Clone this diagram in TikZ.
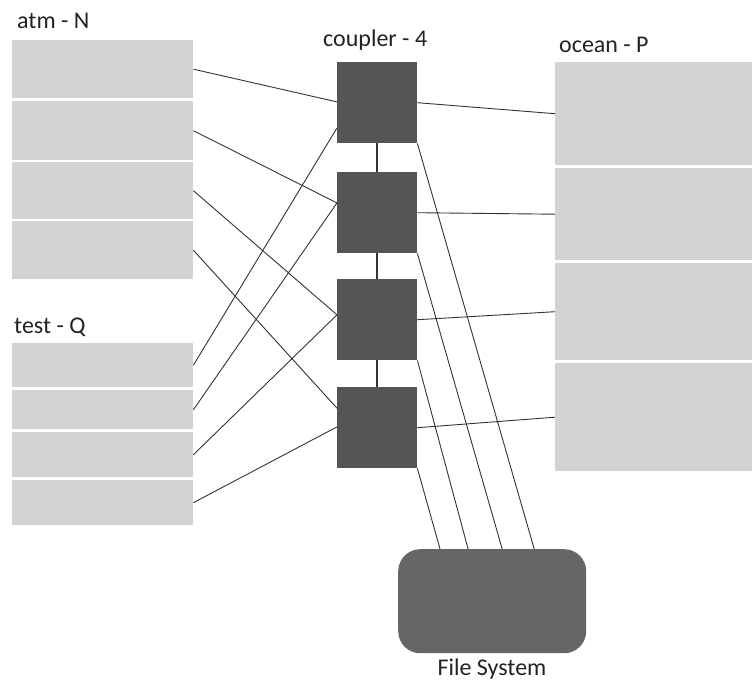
\documentclass[tikz,border=0pt]{standalone}
\usepackage{fontspec}
\setmainfont{Carlito}
\usetikzlibrary{calc}
\definecolor{lightbox}{HTML}{D3D3D3}
\definecolor{darkbox}{HTML}{555555}
\definecolor{fsbox}{HTML}{666666}
\definecolor{linecol}{HTML}{333333}
\definecolor{txtcol}{HTML}{222222}
\tikzset{
  lbox/.style={fill=lightbox, draw=none, inner sep=0pt, anchor=north west, minimum width=181pt},
  cbox/.style={fill=darkbox, draw=none, inner sep=0pt, anchor=north west, minimum width=80pt, minimum height=81pt},
  obox/.style={fill=lightbox, draw=none, inner sep=0pt, anchor=north west, minimum width=197pt},
  conn/.style={draw=linecol, line width=0.9pt},
  chain/.style={draw=linecol, line width=1.6pt},
  lbl/.style={text=txtcol, inner sep=0pt, font=\fontsize{24}{28}\selectfont}
}
\begin{document}
\begin{tikzpicture}[x=1pt,y=-1pt]
\useasboundingbox (0,0) rectangle (752,682);
% atm boxes
\node[lbox, minimum height=58pt] (a1) at (12,40) {};
\node[lbox, minimum height=59pt] (a2) at (12,101) {};
\node[lbox, minimum height=57pt] (a3) at (12,162) {};
\node[lbox, minimum height=58pt] (a4) at (12,221) {};
% test boxes
\node[lbox, minimum height=44pt] (t1) at (12,343) {};
\node[lbox, minimum height=39pt] (t2) at (12,390) {};
\node[lbox, minimum height=45pt] (t3) at (12,432) {};
\node[lbox, minimum height=45pt] (t4) at (12,480) {};
% ocean boxes
\node[obox, minimum height=103pt] (o1) at (555,62) {};
\node[obox, minimum height=92pt] (o2) at (555,168) {};
\node[obox, minimum height=97pt] (o3) at (555,263) {};
\node[obox, minimum height=108pt] (o4) at (555,363) {};
% couplers
\node[cbox] (c1) at (337,62) {};
\node[cbox] (c2) at (337,172) {};
\node[cbox] (c3) at (337,279) {};
\node[cbox] (c4) at (337,387) {};
% file system
\node[fill=fsbox, draw=none, rounded corners=22pt, inner sep=0pt, anchor=north west,
      minimum width=188pt, minimum height=104pt] (fs) at (398,549) {};
% labels
\node[lbl, anchor=base west] (latm) at (17,29) {atm - N};
\node[lbl, anchor=base west] (ltest) at (14,333) {test - Q};
\node[lbl, anchor=base west] (lcpl) at (323,47) {coupler - 4};
\node[lbl, anchor=base west] (locn) at (559,53) {ocean - P};
\node[lbl, anchor=base] (lfs) at (492,675) {File System};
% coupler chain
\draw[chain] (c1.south) -- (c2.north);
\draw[chain] (c2.south) -- (c3.north);
\draw[chain] (c3.south) -- (c4.north);
% atm to couplers
\draw[conn] (a1.east) -- ($(c1.north west)!0.49!(c1.south west)$);
\draw[conn] (a2.east) -- ($(c2.north west)!0.38!(c2.south west)$);
\draw[conn] (a3.east) -- ($(c3.north west)!0.44!(c3.south west)$);
\draw[conn] (a4.east) -- ($(c4.north west)!0.26!(c4.south west)$);
% test to couplers
\draw[conn] (t1.east) -- ($(c1.north west)!0.81!(c1.south west)$);
\draw[conn] (t2.east) -- ($(c2.north west)!0.38!(c2.south west)$);
\draw[conn] (t3.east) -- ($(c3.north west)!0.44!(c3.south west)$);
\draw[conn] (t4.east) -- ($(c4.north west)!0.49!(c4.south west)$);
% couplers to ocean
\draw[conn] (c1.east) -- (o1.west);
\draw[conn] (c2.east) -- (o2.west);
\draw[conn] (c3.east) -- (o3.west);
\draw[conn] (c4.east) -- (o4.west);
% couplers to file system
\draw[conn] (c4.south east) -- ($(fs.north west)!0.223!(fs.north east)$);
\draw[conn] (c3.south east) -- ($(fs.north west)!0.372!(fs.north east)$);
\draw[conn] (c2.south east) -- ($(fs.north west)!0.553!(fs.north east)$);
\draw[conn] (c1.south east) -- ($(fs.north west)!0.723!(fs.north east)$);
\end{tikzpicture}
\end{document}
